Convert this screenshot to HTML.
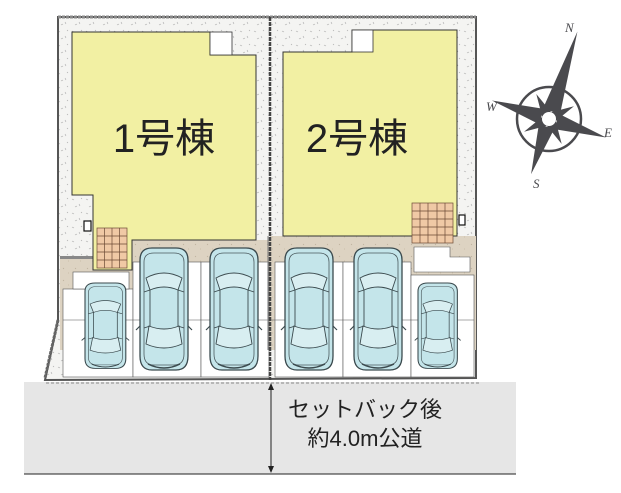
<!DOCTYPE html>
<html><head><meta charset="utf-8"><style>
html,body{margin:0;padding:0;background:#fff;}
svg{display:block;}
</style></head><body>
<svg width="621" height="493" viewBox="0 0 621 493" xmlns="http://www.w3.org/2000/svg">
<defs>
<pattern id="grav" width="14" height="14" patternUnits="userSpaceOnUse">
<rect width="14" height="14" fill="#f4f4f2"/>
<path d="M2 3l2 1M9 8l1 2M5 11l2-1M11 2l1 1" stroke="#aaa" stroke-width="0.6"/>
</pattern>
<pattern id="tan" width="12" height="12" patternUnits="userSpaceOnUse">
<rect width="12" height="12" fill="#ddd3c2"/>
<path d="M3 4l1 1M8 9l1 0" stroke="#b8ab95" stroke-width="0.6"/>
</pattern>
<g id="car">
<path d="M0 12 Q0 0 12 0 L36 0 Q48 0 48 12 L48 108 Q48 122 36 122 L12 122 Q0 122 0 108 Z" fill="#c4e5ea" stroke="#3b4a4e" stroke-width="1.3"/>
<path d="M4 14 Q4 5 14 5 L34 5 Q44 5 44 14 L44 106 Q44 117 34 117 L14 117 Q4 117 4 106 Z" fill="none" stroke="#4a5a5e" stroke-width="0.8"/>
<path d="M6 30 Q24 20 42 30 L38 42 Q24 36 10 42 Z" fill="#d8eef1" stroke="#3b4a4e" stroke-width="0.9"/>
<path d="M9 78 Q24 84 39 78 L42 96 Q24 104 6 96 Z" fill="#d8eef1" stroke="#3b4a4e" stroke-width="0.9"/>
<path d="M4 44 L10 42 L10 78 L4 80 M44 44 L38 42 L38 78 L44 80" fill="none" stroke="#3b4a4e" stroke-width="0.9"/>
<path d="M0 78 L-4 82 M48 78 L52 82" stroke="#3b4a4e" stroke-width="1.2"/>
<path d="M8 116 Q24 124 40 116" fill="none" stroke="#3b4a4e" stroke-width="1.5"/>
</g>
</defs>

<!-- road -->
<rect x="24" y="382" width="492" height="92" fill="#e6e6e6"/>
<line x1="24" y1="474" x2="516" y2="474" stroke="#222" stroke-width="1"/>
<line x1="46" y1="383" x2="480" y2="383" stroke="#888" stroke-width="1" stroke-dasharray="3,2"/>

<!-- lot background -->
<path d="M58 17 L476 17 L476 378 L45 380 L58 320 Z" fill="url(#grav)" stroke="#555" stroke-width="2"/>
<path d="M58 17 L476 17" stroke="#888" stroke-width="3" stroke-dasharray="3,1"/>
<!-- driveway tan -->
<path d="M60 257 L93 257 L93 240 L270 240 L270 236 L476 236 L476 350 L60 350 Z" fill="url(#tan)"/>
<!-- white parking areas -->
<rect x="63" y="289" width="70" height="88" fill="#fff" stroke="#555" stroke-width="0.6"/>
<rect x="133" y="262" width="68" height="115" fill="#fff" stroke="#555" stroke-width="0.6"/>
<rect x="201" y="262" width="68" height="115" fill="#fff" stroke="#555" stroke-width="0.6"/>
<rect x="275" y="262" width="68" height="115" fill="#fff" stroke="#555" stroke-width="0.6"/>
<rect x="343" y="262" width="68" height="115" fill="#fff" stroke="#555" stroke-width="0.6"/>
<rect x="411" y="275" width="63" height="102" fill="#fff" stroke="#555" stroke-width="0.6"/>
<line x1="63" y1="320" x2="474" y2="320" stroke="#555" stroke-width="0.6"/>
<rect x="73" y="272" width="56" height="17" fill="#fff" stroke="#555" stroke-width="0.6"/>
<path d="M414 247 L450 247 L450 257 L470 257 L470 272 L414 272 Z" fill="#fff" stroke="#555" stroke-width="0.6"/>
<path d="M58 320 L45 378" stroke="#666" stroke-width="3" stroke-dasharray="3,1"/>
<rect x="60" y="256" width="33" height="3" fill="#888"/>
<!-- divider -->
<line x1="270" y1="17" x2="270" y2="380" stroke="#444" stroke-width="2.5" stroke-dasharray="4,1"/>
<line x1="268" y1="236" x2="268" y2="350" stroke="#777" stroke-width="1"/>

<!-- building 1 -->
<path d="M72 32 L210 32 L210 55 L256 55 L256 240 L132 240 L132 270 L93 270 L93 195 L72 195 Z" fill="#f2f0a3" stroke="#333" stroke-width="1"/>
<rect x="210" y="32" width="22" height="23" fill="#fff" stroke="#333" stroke-width="0.8"/>
<g stroke="#6b4a35" stroke-width="0.7" fill="#f0c9a5">
<rect x="97" y="228" width="30" height="40"/>
<path d="M104.5 228V268M112 228V268M119.5 228V268M97 236H127M97 244H127M97 252H127M97 260H127" fill="none"/>
</g>
<rect x="84" y="221" width="7" height="10" fill="#fff" stroke="#111" stroke-width="1.2"/>

<!-- building 2 -->
<path d="M283 52 L352 52 L352 30 L457 30 L457 236 L283 236 Z" fill="#f2f0a3" stroke="#333" stroke-width="1"/>
<rect x="352" y="30" width="21" height="22" fill="#fff" stroke="#333" stroke-width="0.8"/>
<g stroke="#6b4a35" stroke-width="0.7" fill="#f0c9a5">
<rect x="412" y="203" width="41" height="40"/>
<path d="M420 203V243M428 203V243M437 203V243M445 203V243M412 211H453M412 219H453M412 227H453M412 235H453" fill="none"/>
</g>
<rect x="459" y="215" width="6" height="10" fill="#fff" stroke="#111" stroke-width="1.2"/>

<text x="164" y="152" font-family="'Liberation Sans','Noto Sans CJK JP',sans-serif" font-size="40" fill="#222" text-anchor="middle">1号棟</text>
<text x="357" y="152" font-family="'Liberation Sans','Noto Sans CJK JP',sans-serif" font-size="40" fill="#222" text-anchor="middle">2号棟</text>

<!-- cars -->
<use href="#car" transform="translate(85,283) scale(0.85,0.7)"/>
<use href="#car" transform="translate(140,248)"/>
<use href="#car" transform="translate(210,248)"/>
<use href="#car" transform="translate(285,248)"/>
<use href="#car" transform="translate(354,248)"/>
<use href="#car" transform="translate(418,283) scale(0.82,0.7)"/>

<!-- dimension arrow -->
<line x1="271" y1="384" x2="271" y2="472" stroke="#222" stroke-width="1"/>
<path d="M268 390 L271 383 L274 390 Z M268 466 L271 473 L274 466 Z" fill="#222"/>
<text x="365" y="417" font-family="'Liberation Sans','Noto Sans CJK JP',sans-serif" font-size="22" fill="#222" text-anchor="middle">セットバック後</text>
<text x="365" y="446" font-family="'Liberation Sans','Noto Sans CJK JP',sans-serif" font-size="22" fill="#222" text-anchor="middle">約4.0m公道</text>

<!-- compass -->
<g transform="translate(549,119)" fill="#4a4a4e">
<circle r="32" fill="none" stroke="#4a4a4e" stroke-width="2.5"/>
<g transform="rotate(18)">
<path d="M0 -92 L9 -8 L-9 -8 Z"/>
<path d="M0 58 L8 8 L-8 8 Z"/>
<path d="M-60 0 L-8 -8 L-8 8 Z"/>
<path d="M60 0 L8 -8 L8 8 Z"/>
<g transform="rotate(45)">
<path d="M0 -28 L5 -5 L-5 -5 Z"/><path d="M0 28 L5 5 L-5 5 Z"/>
<path d="M-28 0 L-5 -5 L-5 5 Z"/><path d="M28 0 L5 -5 L5 5 Z"/>
</g>
</g>
<circle r="7" fill="#fff"/>
</g>
<g font-family="'Liberation Serif',serif" font-style="italic" font-size="13" fill="#4a4a4e">
<text x="565" y="32">N</text>
<text x="486" y="111">W</text>
<text x="604" y="137">E</text>
<text x="533" y="188">S</text>
</g>
</svg>
</body></html>
